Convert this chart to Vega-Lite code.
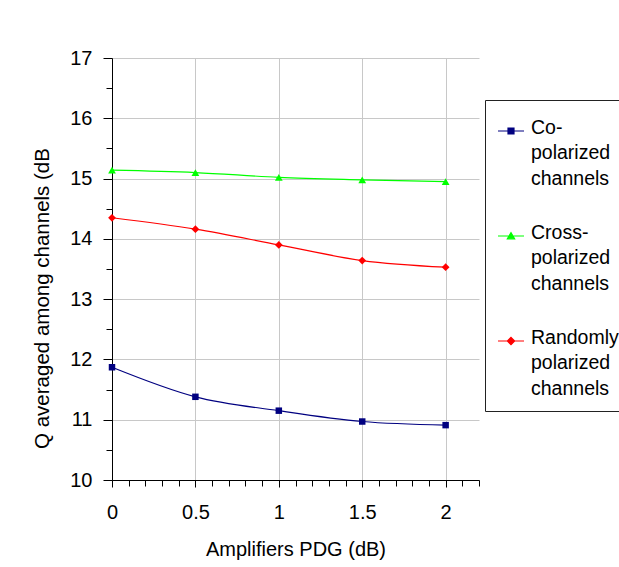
{
  "$schema": "https://vega.github.io/schema/vega-lite/v6.json",
  "width": 367,
  "height": 422,
  "autosize": {"type": "none"},
  "padding": {"left": 112, "top": 58, "right": 140, "bottom": 87},
  "background": "white",
  "config": {
    "font": "Liberation Sans",
    "view": {"stroke": null},
    "axis": {
      "domainColor": "#000",
      "tickColor": "#000",
      "labelColor": "#000",
      "titleColor": "#000",
      "gridColor": "#c8c8c8",
      "labelFont": "Liberation Sans",
      "titleFont": "Liberation Sans",
      "titleFontWeight": "normal"
    }
  },
  "data": {
    "values": [
      {"pdg": 0, "q": 11.87, "series": "Co-polarized channels"},
      {"pdg": 0.5, "q": 11.38, "series": "Co-polarized channels"},
      {"pdg": 1, "q": 11.15, "series": "Co-polarized channels"},
      {"pdg": 1.5, "q": 10.97, "series": "Co-polarized channels"},
      {"pdg": 2, "q": 10.91, "series": "Co-polarized channels"},
      {"pdg": 0, "q": 15.14, "series": "Cross-polarized channels"},
      {"pdg": 0.5, "q": 15.10, "series": "Cross-polarized channels"},
      {"pdg": 1, "q": 15.02, "series": "Cross-polarized channels"},
      {"pdg": 1.5, "q": 14.98, "series": "Cross-polarized channels"},
      {"pdg": 2, "q": 14.95, "series": "Cross-polarized channels"},
      {"pdg": 0, "q": 14.35, "series": "Randomly polarized channels"},
      {"pdg": 0.5, "q": 14.16, "series": "Randomly polarized channels"},
      {"pdg": 1, "q": 13.90, "series": "Randomly polarized channels"},
      {"pdg": 1.5, "q": 13.64, "series": "Randomly polarized channels"},
      {"pdg": 2, "q": 13.53, "series": "Randomly polarized channels"}
    ]
  },
  "layer": [
    {
      "mark": {"type": "line", "interpolate": "monotone", "strokeWidth": 1.2},
      "encoding": {
        "x": {
          "field": "pdg", "type": "quantitative",
          "scale": {"domain": [0, 2.2], "nice": false, "zero": false},
          "axis": {
            "orient": "bottom",
            "values": [0, 0.5, 1, 1.5, 2],
            "format": "~g",
            "tickSize": 7,
            "grid": true,
            "labelFontSize": 20,
            "labelPadding": 15,
            "labelFlush": false,
            "title": "Amplifiers PDG (dB)",
            "titleFontSize": 20,
            "titlePadding": 17
          }
        },
        "y": {
          "field": "q", "type": "quantitative",
          "scale": {"domain": [10, 17], "nice": false, "zero": false},
          "axis": {
            "orient": "left",
            "values": [10, 11, 12, 13, 14, 15, 16, 17],
            "tickSize": 9,
            "grid": true,
            "labelFontSize": 20,
            "labelPadding": 11,
            "labelFlush": false,
            "title": "Q averaged among channels (dB",
            "titleFontSize": 20.5,
            "titlePadding": 17,
            "titleY": 240
          }
        },
        "color": {
          "field": "series", "type": "nominal",
          "scale": {
            "domain": ["Co-polarized channels", "Cross-polarized channels", "Randomly polarized channels"],
            "range": ["#000080", "#00ff00", "#ff0000"]
          },
          "legend": {
            "orient": "none",
            "legendX": 373,
            "legendY": 42,
            "title": " ",
            "titleFontSize": 1,
            "titlePadding": 4,
            "labelFontSize": 19.5,
            "labelColor": "#000",
            "labelLimit": 0,
            "labelBaseline": "top",
            "strokeColor": "#222",
            "fillColor": "#fff",
            "padding": 12,
            "symbolSize": 676,
            "symbolStrokeWidth": 1.2,
            "rowPadding": 33,
            "labelOffset": 6,
            "labelExpr": "datum.value == 'Co-polarized channels' ? ['Co-','polarized','channels'] : datum.value == 'Cross-polarized channels' ? ['Cross-','polarized','channels'] : ['Randomly','polarized','channels']",
            "encode": {
              "symbols": {
                "update": {
                  "shape": {"signal": "datum.value == 'Co-polarized channels' ? 'M-1,0H1M-0.23,-0.23H0.23V0.23H-0.23Z' : datum.value == 'Cross-polarized channels' ? 'M-1,0H1M-0.28,0.22L0,-0.26L0.28,0.22Z' : 'M-1,0H1M0,-0.28L0.28,0L0,0.28L-0.28,0Z'"},
                  "fill": {"signal": "scale('color', datum.value)"},
                  "stroke": {"signal": "scale('color', datum.value)"},
                  "fillOpacity": {"value": 1},
                  "strokeWidth": {"value": 1.2}
                }
              },
              "labels": {
                "update": {"lineHeight": {"value": 25.3}, "dy": {"value": -12}}
              }
            }
          }
        }
      }
    },
    {
      "transform": [{"filter": "datum.series == 'Co-polarized channels'"}],
      "mark": {"type": "point", "filled": true, "opacity": 1, "size": 42, "shape": "square"},
      "encoding": {
        "x": {
          "field": "pdg", "type": "quantitative",
          "axis": {
            "orient": "bottom",
            "values": [0, 0.1, 0.2, 0.3, 0.4, 0.5, 0.6, 0.7, 0.8, 0.9, 1, 1.1, 1.2, 1.3, 1.4, 1.5, 1.6, 1.7, 1.8, 1.9, 2, 2.1, 2.2],
            "tickSize": 6,
            "labels": false,
            "grid": false,
            "domain": false,
            "title": null
          }
        },
        "y": {
          "field": "q", "type": "quantitative",
          "axis": {
            "orient": "left",
            "values": [10.5, 11.5, 12.5, 13.5, 14.5, 15.5, 16.5],
            "tickSize": 6,
            "labels": false,
            "grid": false,
            "domain": false,
            "title": null
          }
        },
        "color": {"field": "series", "type": "nominal", "legend": null}
      }
    },
    {
      "transform": [{"filter": "datum.series == 'Cross-polarized channels'"}],
      "mark": {"type": "point", "filled": true, "opacity": 1, "size": 60, "shape": "triangle-up"},
      "encoding": {
        "x": {"field": "pdg", "type": "quantitative", "axis": null},
        "y": {"field": "q", "type": "quantitative", "axis": null},
        "color": {"field": "series", "type": "nominal", "legend": null}
      }
    },
    {
      "transform": [{"filter": "datum.series == 'Randomly polarized channels'"}],
      "mark": {"type": "point", "filled": true, "opacity": 1, "size": 60, "shape": "diamond"},
      "encoding": {
        "x": {"field": "pdg", "type": "quantitative", "axis": null},
        "y": {"field": "q", "type": "quantitative", "axis": null},
        "color": {"field": "series", "type": "nominal", "legend": null}
      }
    }
  ],
  "resolve": {"axis": {"x": "independent", "y": "independent"}}
}
